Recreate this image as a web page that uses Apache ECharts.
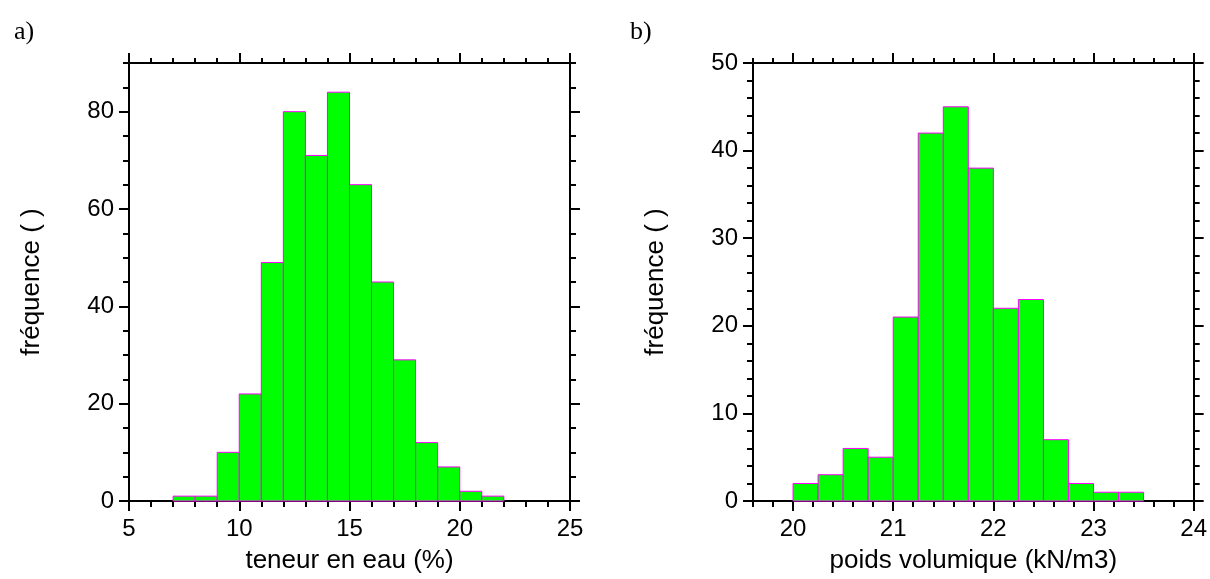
<!DOCTYPE html>
<html>
<head>
<meta charset="utf-8">
<script src="https://cdn.jsdelivr.net/npm/echarts@6/dist/echarts.min.js"></script>
<style>
html,body{margin:0;padding:0;background:#fff;}
#chart{width:1210px;height:579px;}
</style>
</head>
<body>
<div id="chart"></div>
<script>
// ---------- Data ----------
// Panel a) : teneur en eau (%)
const aBinStart = [7, 8, 9, 10, 11, 12, 13, 14, 15, 16, 17, 18, 19, 20, 21];
const aBinWidth = 1;
const aCounts   = [1, 1, 10, 22, 49, 80, 71, 84, 65, 45, 29, 12, 7, 2, 1];
const aXTicks   = [5, 10, 15, 20, 25];
const aYTicks   = [0, 20, 40, 60, 80];

// Panel b) : poids volumique (kN/m3)
const bBinStart = [20, 20.25, 20.5, 20.75, 21, 21.25, 21.5, 21.75, 22, 22.25, 22.5, 22.75, 23, 23.25];
const bBinWidth = 0.25;
const bCounts   = [2, 3, 6, 5, 21, 42, 45, 38, 22, 23, 7, 2, 1, 1];
const bXTicks   = [20, 21, 22, 23, 24];
const bYTicks   = [0, 10, 20, 30, 40, 50];

const panelLabels = ['a)', 'b)'];
const xNames = ['teneur en eau (%)', 'poids volumique (kN/m3)'];
const yName = 'fréquence ( )';

// ---------- Helpers ----------
const FONT = 'Liberation Sans, Arial, sans-serif';
const BLACK = '#000';

function binData(starts, width, counts) {
  return starts.map((s, i) => [s, s + width, counts[i]]);
}

function xAxes(grid, min, max, majors, minorInterval, name) {
  const common = { type: 'value', gridIndex: grid, min: min, max: max, splitLine: { show: false } };
  return [
    Object.assign({}, common, {
      position: 'bottom',
      name: name, nameLocation: 'middle', nameGap: 47,
      nameTextStyle: { fontFamily: FONT, fontSize: 26, color: BLACK, verticalAlign: 'top' },
      axisLine: { show: true, onZero: false, lineStyle: { color: BLACK, width: 2 } },
      axisTick: { show: true, inside: false, length: 10, customValues: majors, lineStyle: { color: BLACK, width: 2 } },
      axisLabel: { show: true, margin: 16, customValues: majors, fontFamily: FONT, fontSize: 24, color: BLACK }
    }),
    Object.assign({}, common, {
      position: 'bottom', interval: minorInterval,
      axisLine: { show: false, onZero: false },
      axisTick: { show: true, inside: false, length: 6, lineStyle: { color: BLACK, width: 2 } },
      axisLabel: { show: false }
    }),
    Object.assign({}, common, {
      position: 'top',
      axisLine: { show: true, onZero: false, lineStyle: { color: BLACK, width: 2 } },
      axisTick: { show: true, inside: false, length: 10, customValues: majors, lineStyle: { color: BLACK, width: 2 } },
      axisLabel: { show: false }
    }),
    Object.assign({}, common, {
      position: 'top', interval: minorInterval,
      axisLine: { show: false, onZero: false },
      axisTick: { show: true, inside: false, length: 5, lineStyle: { color: BLACK, width: 2 } },
      axisLabel: { show: false }
    })
  ];
}

function yAxes(grid, min, max, majors, minorInterval, name) {
  const common = { type: 'value', gridIndex: grid, min: min, max: max, splitLine: { show: false } };
  return [
    Object.assign({}, common, {
      position: 'left',
      name: name, nameLocation: 'middle', nameGap: 84,
      nameTextStyle: { fontFamily: FONT, fontSize: 26, color: BLACK },
      axisLine: { show: true, onZero: false, lineStyle: { color: BLACK, width: 2 } },
      axisTick: { show: true, inside: false, length: 10, customValues: majors, lineStyle: { color: BLACK, width: 2 } },
      axisLabel: { show: true, margin: 15, customValues: majors, fontFamily: FONT, fontSize: 24, color: BLACK }
    }),
    Object.assign({}, common, {
      position: 'left', interval: minorInterval,
      axisLine: { show: false, onZero: false },
      axisTick: { show: true, inside: false, length: 6, lineStyle: { color: BLACK, width: 2 } },
      axisLabel: { show: false }
    }),
    Object.assign({}, common, {
      position: 'right',
      axisLine: { show: true, onZero: false, lineStyle: { color: BLACK, width: 2 } },
      axisTick: { show: true, inside: false, length: 10, customValues: majors, lineStyle: { color: BLACK, width: 2 } },
      axisLabel: { show: false }
    }),
    Object.assign({}, common, {
      position: 'right', interval: minorInterval,
      axisLine: { show: false, onZero: false },
      axisTick: { show: true, inside: false, length: 6, lineStyle: { color: BLACK, width: 2 } },
      axisLabel: { show: false }
    })
  ];
}

function renderBin(params, api) {
  const x0 = api.value(0), x1 = api.value(1), c = api.value(2);
  const p0 = api.coord([x0, c]);
  const p1 = api.coord([x1, 0]);
  return {
    type: 'rect',
    shape: { x: p0[0], y: p0[1], width: p1[0] - p0[0], height: p1[1] - p0[1] },
    style: { fill: '#00ff00', stroke: '#ff00ff', lineWidth: 1 }
  };
}

const chart = echarts.init(document.getElementById('chart'), null, { renderer: 'canvas' });

const option = {
  backgroundColor: '#fff',
  animation: false,
  title: [
    { text: panelLabels[0], left: 9, top: 14, textStyle: { fontFamily: 'Liberation Serif, Times New Roman, serif', fontSize: 26, fontWeight: 'normal', color: BLACK } },
    { text: panelLabels[1], left: 625, top: 14, textStyle: { fontFamily: 'Liberation Serif, Times New Roman, serif', fontSize: 26, fontWeight: 'normal', color: BLACK } }
  ],
  grid: [
    { left: 129, top: 63, width: 441, height: 441 },
    { left: 753, top: 63, width: 443, height: 441 }
  ],
  xAxis: [].concat(
    xAxes(0, 5, 25, aXTicks, 1, xNames[0]),
    xAxes(1, 19.6, 24, bXTicks, 0.2, xNames[1])
  ),
  yAxis: [].concat(
    yAxes(0, 0, 90, aYTicks, 5, yName),
    yAxes(1, 0, 50, bYTicks, 2, yName)
  ),
  series: [
    {
      type: 'custom', xAxisIndex: 0, yAxisIndex: 0,
      renderItem: renderBin,
      encode: { x: [0, 1], y: 2 },
      data: binData(aBinStart, aBinWidth, aCounts),
      z: 5
    },
    {
      type: 'custom', xAxisIndex: 4, yAxisIndex: 4,
      renderItem: renderBin,
      encode: { x: [0, 1], y: 2 },
      data: binData(bBinStart, bBinWidth, bCounts),
      z: 5
    }
  ]
};
chart.setOption(option);
</script>
</body>
</html>
